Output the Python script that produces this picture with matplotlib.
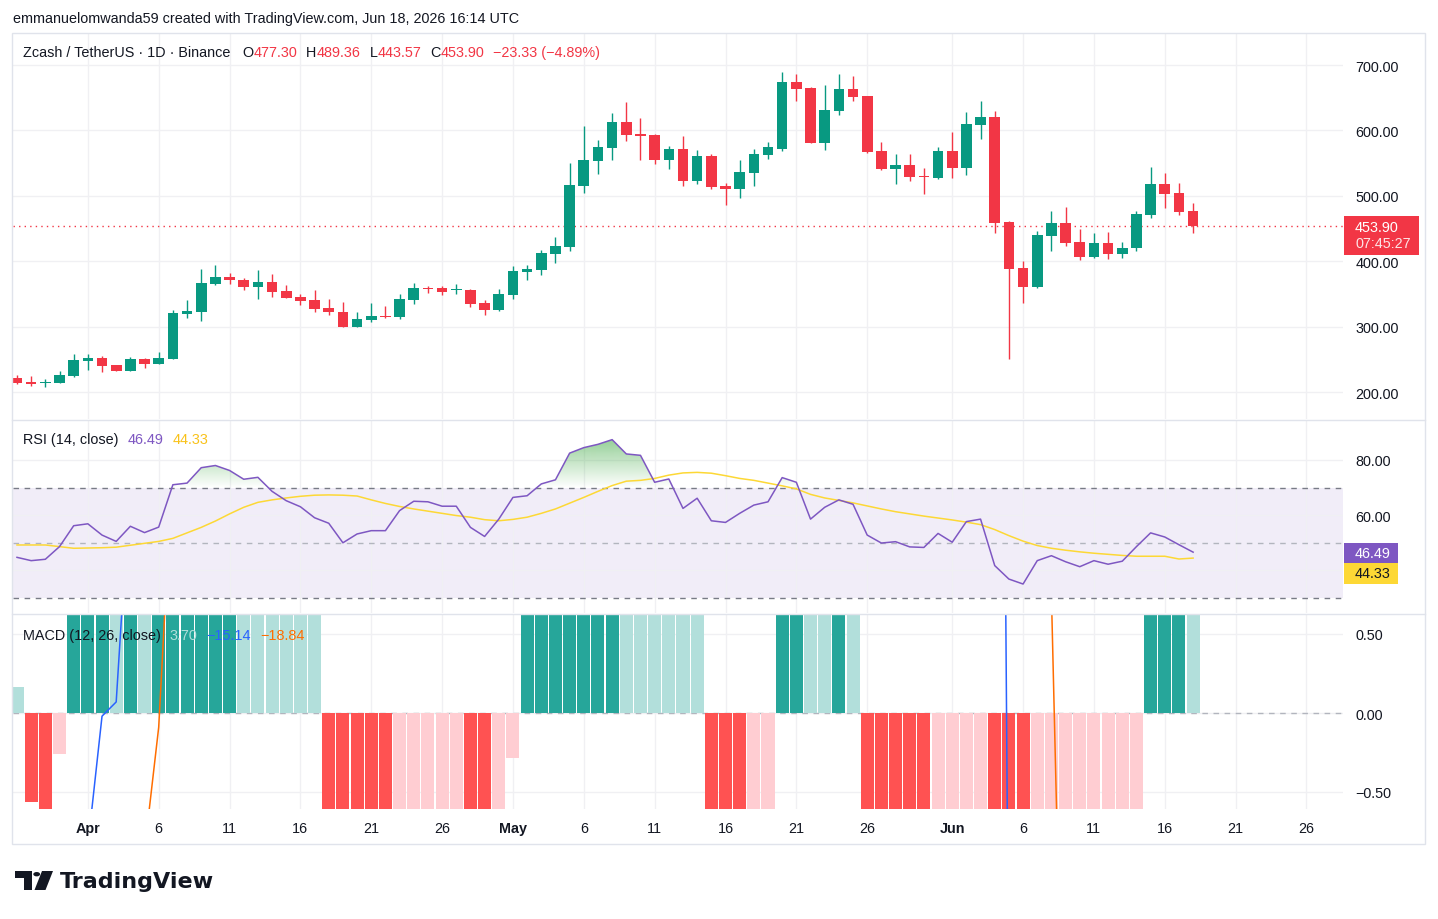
import numpy as np
import pandas as pd
import matplotlib
matplotlib.use("Agg")
import matplotlib.pyplot as plt
from matplotlib.patches import Rectangle, Polygon, Circle
from matplotlib.lines import Line2D
from matplotlib.path import Path

plt.rcParams['font.family'] = ['Liberation Sans', 'DejaVu Sans']

# ---- data (daily candles from Mar 27 to Jun 18, 2026) ----
start_date = '2026-03-27'
opens = [221, 215, 214, 214, 225, 248, 252, 241, 232.6, 250.5,
         243, 250.5, 319, 323, 365, 376, 371, 361, 368, 354.5,
         345, 340.6, 328.4, 322, 300, 310.5, 316, 315, 341, 359,
         359, 356, 356, 336, 325.4, 348.3, 383.5, 386.5, 411.5, 421.6,
         515, 553, 573, 613, 594.5, 593, 554.7, 571.6, 522.6, 561,
         515, 510.4, 535, 562.8, 571.6, 674, 665, 581, 629.7, 663.3,
         652.6, 568.5, 541, 547, 530, 527.2, 568.5, 542.5, 608.7, 620.5,
         460, 389.6, 360.5, 438.5, 458.4, 429.4, 406.4, 428, 411, 420,
         470.7, 518, 504.3, 477.30]
highs = [226, 224.5, 220, 232, 258, 258, 255, 242, 253.5, 252,
         261, 325.4, 340.7, 388, 394, 382, 374, 386.5, 380, 363.6,
         350, 356, 342, 337.6, 322, 336, 331.5, 350, 366.7, 362,
         362, 365, 357, 340.7, 357.5, 392.6, 394, 417, 437, 550,
         606.7, 585, 626.6, 643.4, 619, 594, 576, 591.4, 570, 564,
         519.6, 554.7, 571.6, 582, 689, 686, 666, 669.4, 686, 683,
         653, 582, 564, 564, 542.5, 574.6, 597.6, 628, 645, 629.7,
         461, 400.3, 446, 476.7, 482.8, 449, 443, 444.6, 429.4, 476.7,
         544, 535, 519.6, 489.36]
lows = [212, 209.6, 208, 213.5, 223.4, 234, 231, 232, 232, 237,
        242.5, 250, 313, 308.6, 364, 365, 356, 342, 345.7, 343,
        333, 322, 317.7, 299.5, 299.5, 307, 313.5, 311, 334.5, 351,
        349, 350, 330, 317.7, 324, 342, 371, 379, 397, 415.6,
        504, 533, 554.7, 584, 554.7, 548.6, 541, 515, 518, 510.4,
        486, 496.6, 515, 556, 568.5, 645, 580, 570, 623.5, 645,
        566, 539.5, 518, 522.6, 502.7, 526, 527.2, 532, 587, 443,
        250.5, 336, 359, 415.6, 423, 402, 405, 403.4, 405, 415.6,
        466, 481.3, 470.7, 443.57]
closes = [214, 212.7, 215, 226, 249, 252, 240, 232.6, 250.5, 243,
          252, 321, 324, 366.7, 376, 370.5, 361, 368, 353, 343.7,
          339.6, 327.4, 322, 300, 311.6, 316, 314.6, 342, 359, 357.5,
          353, 357, 334.5, 325.4, 350, 385, 388, 412.5, 423, 516.5,
          554.7, 574.6, 613, 593, 591.4, 554.7, 571.6, 522.6, 561, 513.5,
          511, 536.4, 564, 574.6, 674, 663.3, 581, 631, 663.3, 651,
          567, 541, 547, 528.7, 528.7, 568.5, 542.5, 610, 620.5, 458.4,
          388, 360.5, 440, 458.4, 428, 406.4, 428, 411, 420, 472,
          518, 503, 475, 453.90]

rsi = [44.6, 43.4, 43.9, 48.5, 56.1, 56.8, 52.7, 50.4, 55.9, 53.6,
       55.6, 71.0, 71.6, 77.2, 78.0, 76.2, 73.0, 73.7, 68.6, 65.2,
       63.0, 59.0, 57.0, 49.9, 53.1, 54.3, 54.3, 61.6, 65.0, 64.8,
       63.2, 63.2, 55.5, 52.2, 58.5, 66.4, 67.0, 71.3, 72.8, 82.5,
       84.5, 85.7, 87.4, 82.2, 81.7, 71.9, 73.1, 62.4, 66.1, 57.9,
       57.3, 60.6, 63.6, 64.8, 73.6, 71.9, 58.5, 62.8, 65.5, 63.9,
       52.7, 49.8, 50.3, 48.4, 48.2, 53.3, 50.1, 57.6, 58.5, 41.6,
       36.7, 34.9, 43.4, 45.2, 43.0, 41.2, 43.4, 42.1, 43.2, 48.5,
       53.5, 52.0, 49.2, 46.49]
rsi_ma = [49.1, 49.1, 49.1, 48.5, 47.9, 48.0, 48.1, 48.3, 49.0, 49.7,
          50.4, 51.5, 53.5, 55.5, 57.8, 60.4, 62.8, 64.6, 65.5, 66.2,
          66.8, 67.2, 67.3, 67.2, 66.9, 65.5, 64.2, 63.1, 62.2, 61.4,
          60.6, 59.8, 59.2, 58.3, 57.9, 58.4, 59.2, 60.6, 62.2, 64.3,
          66.4, 68.6, 70.7, 72.3, 72.6, 73.3, 74.5, 75.3, 75.5, 75.2,
          74.3, 73.3, 72.6, 71.6, 70.6, 69.5, 67.5, 66.2, 65.3, 64.4,
          63.3, 62.2, 61.2, 60.4, 59.6, 58.9, 58.2, 57.4, 56.5, 54.7,
          52.5, 50.5, 48.9, 47.9, 47.2, 46.6, 46.1, 45.7, 45.3, 45.0,
          45.0, 45.0, 44.0, 44.33]

macd_hist = [0.166, -0.561, -1.2, -0.26, 0.9, 2.0, 3.2, 3.0, 3.6, 3.4,
             4.0, 5.5, 6.8, 8.5, 9.6, 10.2, 9.5, 8.6, 7.4, 6.0,
             4.5, 3.0, -0.8, -1.8, -2.6, -3.3, -3.9, -3.6, -3.2, -2.9,
             -2.7, -2.6, -3.1, -3.4, -1.5, -0.285, 1.8, 3.2, 4.6, 7.5,
             10.0, 11.5, 12.8, 12.0, 10.8, 9.0, 7.6, 5.8, 4.2, -0.9,
             -2.0, -2.8, -2.4, -1.2, 0.9, 2.5, 2.2, 1.9, 2.6, 2.0,
             -0.9, -2.5, -3.8, -4.6, -5.2, -4.9, -4.5, -3.6, -2.4, -3.5,
             -8.0, -10.5, -10.0, -8.8, -7.6, -6.5, -5.3, -4.0, -2.9, -1.6,
             1.2, 3.0, 4.1, 3.70]
macd_line = [-6.0, -5.5, -5.0, -3.2, -2.0, -0.84, -0.02, 0.07, 1.5, 2.53,
             3.91, 7.1, 11.0, 16.0, 20.0, 23.0, 24.5, 25.0, 24.8, 24.2,
             23.2, 22.0, 19.5, 17.5, 15.8, 14.2, 12.8, 12.2, 11.9, 11.5,
             11.0, 10.4, 9.2, 8.5, 9.6, 10.5, 12.5, 14.5, 17.0, 21.0,
             25.5, 29.0, 32.5, 34.0, 34.5, 34.0, 33.5, 32.0, 30.5, 29.0,
             27.5, 26.0, 25.7, 26.0, 27.5, 30.0, 30.8, 31.5, 33.0, 33.2,
             31.0, 28.5, 26.5, 24.8, 23.3, 23.0, 22.5, 22.8, 23.5, 10.0,
             -2.0, -6.5, -7.5, -8.05, -10.6, -11.5, -12.3, -13.0, -13.9, -14.6,
             -13.8, -13.8, -13.9, -15.14]
signal_line = [-6.5, -6.2, -5.8, -5.3, -4.7, -4.0, -3.2, -2.4, -1.6, -0.87,
               -0.09, 1.6, 3.5, 5.5, 7.5, 9.5, 11.2, 12.8, 14.0, 15.2,
               16.2, 17.0, 17.4, 17.6, 17.5, 17.2, 16.8, 16.2, 15.6, 15.0,
               14.3, 13.6, 12.9, 12.2, 11.8, 11.5, 11.7, 12.2, 13.0, 14.3,
               16.0, 18.0, 20.0, 22.0, 23.8, 25.2, 26.3, 27.0, 27.4, 27.5,
               27.4, 27.2, 27.0, 26.9, 27.0, 27.5, 28.0, 28.5, 29.1, 29.6,
               29.8, 29.5, 29.0, 28.4, 27.8, 27.2, 26.6, 26.0, 25.5, 13.5,
               6.0, 4.0, 2.5, 0.75, -3.0, -5.0, -7.0, -9.0, -11.0, -13.0,
               -15.0, -16.8, -18.0, -18.84]

price_ticks = [200, 300, 400, 500, 600, 700]
tick_days = ['2026-04-01', '2026-04-06', '2026-04-11', '2026-04-16', '2026-04-21', '2026-04-26',
             '2026-05-01', '2026-05-06', '2026-05-11', '2026-05-16', '2026-05-21', '2026-05-26',
             '2026-06-01', '2026-06-06', '2026-06-11', '2026-06-16', '2026-06-21', '2026-06-26']
tick_labels = ['Apr', '6', '11', '16', '21', '26', 'May', '6', '11', '16', '21', '26',
               'Jun', '6', '11', '16', '21', '26']

GREEN = '#089981'
RED = '#f23645'
TXT = '#131722'
GRID = '#f0f0f3'
FS = 10.4

W, H = 1438, 920
fig = plt.figure(figsize=(W / 100, H / 100), dpi=100)
fig.patch.set_facecolor('white')


def px_axes(x0, y0, x1, y1):
    return fig.add_axes([x0 / W, 1 - y1 / H, (x1 - x0) / W, (y1 - y0) / H])


idx = np.arange(len(closes))
o, h, l, c = map(np.array, (opens, highs, lows, closes))
t0 = pd.Timestamp(start_date)
tick_pos = [(pd.Timestamp(d) - t0).days for d in tick_days]
step = 14.17
xlim = ((13 - 17) / step, (1343 - 17) / step)

ax = px_axes(13, 34, 1343, 420)
ax2 = px_axes(13, 421, 1343, 614)
ax3 = px_axes(13, 615, 1343, 810)

for a in (ax, ax2, ax3):
    for s in a.spines.values():
        s.set_visible(False)
    a.set_xlim(*xlim)
    a.set_xticks(tick_pos)
    a.yaxis.tick_right()
    a.tick_params(axis='both', length=0, labelsize=FS, colors=TXT)
    a.tick_params(axis='y', pad=9)
    a.grid(True, color=GRID, lw=1, zorder=0)
    a.set_axisbelow(True)

ax.tick_params(axis='x', labelbottom=False)
ax2.tick_params(axis='x', labelbottom=False)

# ---- candles ----
cols = np.where(c >= o, GREEN, RED)
ax.vlines(idx, l, h, colors=cols, lw=1.0, zorder=2)
body_lo = np.minimum(o, c)
body_h = np.maximum(np.abs(c - o), 1.5)
ax.bar(idx, body_h, bottom=body_lo, width=0.75, color=cols, lw=0, zorder=3)
ax.axhline(c[-1], color=RED, lw=1, ls=(0, (1, 3)), zorder=1)
ax.set_ylim(700 - (420 - 66) / 0.654, 700 - (34 - 66) / 0.654)
ax.set_yticks(price_ticks)
ax.set_yticklabels([f'{v:.2f}' for v in price_ticks])

# ---- RSI ----
r = np.array(rsi)
ax2.axhspan(30, 70, color='#7e57c2', alpha=0.1, lw=0, zorder=0.5)
ax2.axhline(70, color='#787b86', lw=1, ls=(0, (4, 4)), zorder=1)
ax2.axhline(30, color='#787b86', lw=1, ls=(0, (4, 4)), zorder=1)
ax2.axhline(50, color='#b2b5be', lw=1, ls=(0, (4, 4)), zorder=1)
poly = ax2.fill_between(idx, r, 70, where=r >= 70, interpolate=True,
                        facecolor='none', edgecolor='none')
paths = poly.get_paths()
if paths:
    grad = np.zeros((100, 1, 4))
    grad[..., 0] = 76 / 255
    grad[..., 1] = 175 / 255
    grad[..., 2] = 80 / 255
    grad[:, 0, 3] = np.linspace(0.0, 0.6, 100)
    im = ax2.imshow(grad, extent=[0, idx[-1], 70, 88], origin='lower',
                    aspect='auto', zorder=1.5, interpolation='bilinear')
    im.set_clip_path(Path.make_compound_path(*paths), ax2.transData)
ax2.plot(idx, rsi_ma, color='#fdd835', lw=1.1, zorder=2)
ax2.plot(idx, r, color='#7e57c2', lw=1.1, zorder=3)
ax2.set_xlim(*xlim)
ax2.set_ylim(80 - (614 - 461) / 2.75, 80 - (421 - 461) / 2.75)
ax2.set_yticks([40, 60, 80])
ax2.set_yticklabels(['', '60.00', '80.00'])

# ---- MACD ----
hcols = []
for i, v in enumerate(macd_hist):
    rising = i > 0 and v > macd_hist[i - 1]
    if v >= 0:
        hcols.append('#26a69a' if rising else '#b2dfdb')
    else:
        hcols.append('#ffcdd2' if rising else '#ff5252')
ax3.bar(idx, macd_hist, width=0.92, color=hcols, lw=0, zorder=2)
ax3.axhline(0, color='#b2b5be', lw=1, ls=(0, (4, 4)), zorder=1)
ax3.plot(idx, macd_line, color='#2962ff', lw=1.1, zorder=3)
ax3.plot(idx, signal_line, color='#ff6d00', lw=1.1, zorder=3)
ax3.set_ylim(-(810 - 714) / 158, (714 - 615) / 158)
ax3.set_yticks([-0.5, 0, 0.5])
ax3.set_yticklabels(['\u22120.50', '0.00', '0.50'])
ax3.set_xticklabels(tick_labels)
ax3.tick_params(axis='x', pad=9)
for t in ax3.get_xticklabels():
    if t.get_text() in ('Apr', 'May', 'Jun'):
        t.set_fontweight('bold')

# ---- frame and separators ----
fig.add_artist(Rectangle((12 / W, 1 - 845 / H), (1425 - 12) / W, (845 - 34) / H,
                         transform=fig.transFigure, fill=False, ec='#e0e3eb', lw=1))
for yy in (420.5, 614.5):
    fig.add_artist(Line2D([12 / W, 1425 / W], [1 - yy / H, 1 - yy / H],
                          transform=fig.transFigure, color='#e0e3eb', lw=1))


# ---- labels ----
def px_rect(x0, y0, x1, y1, color):
    fig.add_artist(Rectangle((x0 / W, 1 - y1 / H), (x1 - x0) / W, (y1 - y0) / H,
                             transform=fig.transFigure, color=color, lw=0, zorder=5))


def ftext(x, y, s, color=TXT, **kw):
    return fig.text(x / W, 1 - y / H, s, color=color, fontsize=kw.pop('fs', FS),
                    va='center', ha='left', zorder=6, **kw)


renderer = fig.canvas.get_renderer()


def chain(x, y, parts):
    for s, col, g in parts:
        t = ftext(x, y, s, col)
        x += t.get_window_extent(renderer).width + g
    return x


px_rect(1344, 217, 1419, 255.5, RED)
ftext(1355, 228.5, f'{c[-1]:.2f}', 'white')
ftext(1355, 244.5, '07:45:27', '#fde3e5')

px_rect(1344, 543.5, 1398, 563.5, '#7e57c2')
ftext(1355, 553.5, f'{rsi[-1]:.2f}', 'white')
px_rect(1344, 564, 1398, 585, '#fdd835')
ftext(1355, 574.5, f'{rsi_ma[-1]:.2f}', TXT)

ftext(13, 19, 'emmanuelomwanda59 created with TradingView.com, Jun 18, 2026 16:14 UTC')

chain(23, 53, [('Zcash / TetherUS \u00b7 1D \u00b7 Binance', TXT, 12),
               ('O', TXT, 0), (f'{o[-1]:.2f}', RED, 9),
               ('H', TXT, 0), (f'{h[-1]:.2f}', RED, 9),
               ('L', TXT, 0), (f'{l[-1]:.2f}', RED, 9),
               ('C', TXT, 0), (f'{c[-1]:.2f}', RED, 9),
               ('\u221223.33 (\u22124.89%)', RED, 0)])
chain(23, 440, [('RSI (14, close)', TXT, 9),
                (f'{rsi[-1]:.2f}', '#7e57c2', 9),
                (f'{rsi_ma[-1]:.2f}', '#f9c21a', 0)])
chain(23, 636, [('MACD (12, 26, close)', TXT, 9),
                (f'{macd_hist[-1]:.2f}', '#b2dfdb', 9),
                ('\u221215.14', '#2962ff', 9),
                ('\u221218.84', '#ff6d00', 0)])

# ---- TradingView logo ----
logo = [
    [(15, 872), (31.7, 872), (31.7, 891), (23.5, 891), (23.5, 878.5), (15, 878.5)],
    [(42, 872), (53, 872), (45.5, 891), (34.5, 891)],
]
for pts in logo:
    fig.add_artist(Polygon([(x / W, 1 - y / H) for x, y in pts], closed=True,
                           transform=fig.transFigure, color='#131722', lw=0))
fig.add_artist(Circle((36.7 / W, 1 - 875.2 / H), 3.4 / W, transform=fig.transFigure,
                      color='#131722', lw=0))
ftext(60, 882, 'TradingView', '#131722', fs=16, fontweight='bold',
      family=['DejaVu Sans'])

fig.savefig('out.png', dpi=100, facecolor='white')
